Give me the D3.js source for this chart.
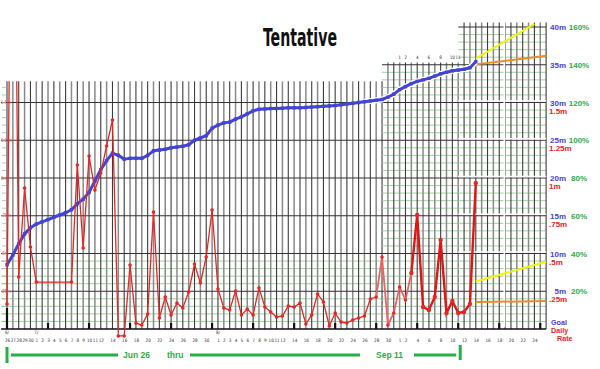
<!DOCTYPE html>
<html><head><meta charset="utf-8">
<script src="https://cdn.jsdelivr.net/npm/d3@7"></script>
<style>body{margin:0;background:#fff}svg{display:block}</style>
</head><body>
<svg id="c" width="600" height="369"></svg>
<script>
// ---------------- DATA ----------------
const startDate = "2011/6/26";
// cumulative goal minutes, one per day from 6/26
const goalMinutes = [
  8.5, 9.8, 11.3, 12.6, 13.4, 13.9, 14.2, 14.5, 14.8, 15.1, 15.4, 15.8,
  16.6, 17.2, 18.1, 19.6, 21.1, 22.3, 23.3, 23.0, 22.5, 22.6, 22.6, 22.6,
  23.0, 23.6, 23.7, 23.8, 24.0, 24.1, 24.2, 24.4, 25.0, 25.3, 25.6, 26.6,
  27.0, 27.3, 27.4, 27.8, 28.1, 28.5, 28.9, 29.1, 29.15, 29.2, 29.2, 29.25,
  29.3, 29.3, 29.3, 29.35, 29.4, 29.45, 29.5, 29.55, 29.6, 29.7, 29.8, 29.9,
  30.0, 30.1, 30.2, 30.3, 30.4, 30.7, 31.1, 31.7, 32.1, 32.5, 32.8, 33.0,
  33.2, 33.5, 33.8, 34.0, 34.2, 34.3, 34.4, 34.6, 35.4
];
// daily rate (minutes), one per day from 6/26 (null = no entry)
const dailyRate = [
  0.166, 4.2, 0.344, 0.934, 0.543, 0.311, null, null, null, null, null, 0.311,
  1.086, 0.536, 1.146, 0.92, 1.033, 1.212, 1.384, -0.046, -0.046, 0.424, 0.040, 0.026,
  0.099, 0.775, 0.073, 0.212, 0.093, 0.172, 0.139, 0.245, 0.430, 0.305, 0.477, 0.788,
  0.265, 0.139, 0.126, 0.252, 0.093, 0.132, 0.093, 0.272, 0.146, 0.113, 0.079, 0.086,
  0.152, 0.146, 0.172, 0.033, 0.093, 0.232, 0.179, 0.020, 0.106, 0.046, 0.040, 0.060,
  0.073, 0.086, 0.199, 0.212, 0.477, 0.026, 0.106, 0.278, 0.192, 0.371, 0.755, 0.146,
  0.126, 0.212, 0.589, 0.106, 0.185, 0.106, 0.113, 0.166, 0.967
];
// projections
const projGoalHigh = [["9/14", 35.8], ["9/24", 40.4]];
const projGoalLow  = [["9/14", 35.05], ["9/26", 36.2]];
const projRateHigh = [["9/14", 0.315], ["9/26", 0.445]];
const projRateLow  = [["9/14", 0.178], ["9/26", 0.185]];

const tickLabels = [
  "6/26","6/27","6/28","6/29","6/30",
  "7/1","7/2","7/3","7/4","7/5","7/6","7/7","7/8","7/9","7/10","7/11","7/12",
  "7/14","7/16","7/18","7/20","7/22","7/24","7/26","7/28","7/30",
  "8/1","8/2","8/3","8/4","8/5","8/6","8/7","8/8","8/9","8/10","8/11","8/12",
  "8/14","8/16","8/18","8/20","8/22","8/24","8/26","8/28","8/30",
  "9/1","9/2","9/4","9/6","9/8","9/10","9/12","9/14","9/16","9/18","9/20","9/22","9/24"
];
const monthPrefixes = [["6/", "6/26"], ["7/", "7/1"], ["8/", "8/1"]];
const topTickLabels = ["9/1","9/2","9/4","9/6","9/8","9/10","9/11"];

const goalTicks = [5, 10, 15, 20, 25, 30, 35, 40];
const goalTickLabels = ["5m","10m","15m","20m","25m","30m","35m","40m"];
const percentLabels = ["20%","40%","60%","80%","100%","120%","140%","160%"];
const rateTicks = [0.25, 0.5, 0.75, 1, 1.25, 1.5];
const rateTickLabels = [".25m", ".5m", ".75m", "1m", "1.25m", "1.5m"];
const rangeLabels = ["Jun 26", "thru", "Sep 11"];
const rangeDates = ["6/26", "9/11"];
const title = "Tentative";

// ---------------- SETUP ----------------
const parse = d3.utcParse("%Y/%m/%d");
const md = s => parse("2011/" + s);
const start = parse(startDate);
const dayDate = i => d3.utcDay.offset(start, i);

const x = d3.scaleUtc().domain([start, dayDate(94)]).range([7, 7 + 5.86 * 94]);
const xd = i => x(dayDate(i));
const yG = d3.scaleLinear().domain([0, 40]).range([329, 27]);
const yR = d3.scaleLinear().domain([0, 2]).range([329, 27]);

const svg = d3.select("#c");
const FONT = "'Liberation Sans', Arial, sans-serif";
const NARROW = "'Liberation Sans Narrow', 'DejaVu Sans Condensed', sans-serif";
const BLUE = "#4444d4", RED = "#e82424", GREEN = "#2aae46";

// title
svg.append("text").attr("x", 300).attr("y", 46).attr("text-anchor", "middle")
  .attr("font-family", NARROW)
  .attr("font-weight", "bold").attr("font-size", 25).attr("fill", "#111")
  .attr("textLength", 74).attr("lengthAdjust", "spacingAndGlyphs").text(title);

// ---------------- GRID ----------------
const regions = [
  {d0: 0, d1: 64, h0: -0.3, h1: 64.5, top: 32.8, minorAll: false},
  {d0: 65, d1: 77, h0: 64.5, h1: 77.5, top: 35.3, minorAll: true},
  {d0: 78, d1: 92, h0: 77.5, h1: 92, top: 40.6, minorAll: true}
];
const grid = svg.append("g");
regions.forEach((r, ri) => {
  for (let v = 1; v < r.top; v++) {
    if (v % 5 === 0) continue;
    if (!r.minorAll && v > 10) continue;
    grid.append("line").attr("x1", xd(r.h0)).attr("x2", xd(r.h1))
      .attr("y1", yG(v)).attr("y2", yG(v)).attr("stroke", "#9ed49e").attr("stroke-width", 1);
  }
  d3.range(r.d0, r.d1 + 1).forEach(d => {
    grid.append("line").attr("x1", xd(d)).attr("x2", xd(d))
      .attr("y1", yG(r.top)).attr("y2", yG(0))
      .attr("stroke", d % 2 ? "#8a8a8a" : "#3c3c3c").attr("stroke-width", d % 2 ? 1.5 : 1.1);
  });
  goalTicks.filter(v => v < r.top).forEach(v => {
    grid.append("line").attr("x1", xd(r.h0)).attr("x2", xd(r.h1))
      .attr("y1", yG(v)).attr("y2", yG(v)).attr("stroke", "#333").attr("stroke-width", 1);
    if (ri === 2 && v >= 10 && v <= 30) {
      grid.append("line").attr("x1", xd(r.h0)).attr("x2", xd(r.h1))
        .attr("y1", yG(v) - 1.4).attr("y2", yG(v) - 1.4).attr("stroke", "#fff").attr("stroke-width", 1.5);
    }
  });
});
grid.append("rect").attr("x", 503.5).attr("y", yG(40.7)).attr("width", 1.6).attr("height", 305).attr("fill", "#fff");

d3.range(1, 33).forEach(v => {
  grid.append("line").attr("x1", 2).attr("x2", 6).attr("y1", yG(v)).attr("y2", yG(v))
    .attr("stroke", "#9ac49a").attr("stroke-width", 0.8);
});
rateTicks.forEach((v, i) => {
  svg.append("text").attr("x", 1).attr("y", yR(v) + 1.5).attr("font-size", 4.5)
    .attr("font-family", FONT).attr("fill", "#e66").text(rateTickLabels[i]);
});

svg.append("line").attr("x1", xd(-0.3)).attr("x2", xd(92)).attr("y1", yG(0)).attr("y2", yG(0))
  .attr("stroke", "#111").attr("stroke-width", 1.5);
d3.range(0, 93, 7).forEach(d => {
  svg.append("line").attr("x1", xd(d)).attr("x2", xd(d))
    .attr("y1", d === 0 ? yG(0) - 21 : yG(0) - 6).attr("y2", yG(0))
    .attr("stroke", "#111").attr("stroke-width", 2.2);
});

// ---------------- X AXIS LABELS ----------------
const ax = d3.axisBottom(x).tickValues(tickLabels.map(md))
  .tickFormat(d => d.getUTCDate()).tickSize(0).tickPadding(3);
const axG = svg.append("g").attr("transform", "translate(0,336)").call(ax);
axG.select(".domain").remove();
axG.selectAll("text").attr("font-size", 4.6).attr("font-family", NARROW).attr("fill", "#333");
monthPrefixes.forEach(([p, d]) => {
  svg.append("text").attr("x", x(md(d))).attr("y", 334).attr("text-anchor", "middle")
    .attr("font-size", 4.6).attr("font-family", NARROW).attr("fill", "#333").text(p);
});
topTickLabels.forEach(d => {
  svg.append("text").attr("x", x(md(d))).attr("y", 59).attr("text-anchor", "middle")
    .attr("font-size", 4.6).attr("font-family", NARROW).attr("fill", "#333").text(md(d).getUTCDate());
});

// ---------------- RIGHT LABELS ----------------
goalTicks.forEach((v, i) => {
  svg.append("text").attr("x", 566).attr("y", yG(v) + 3).attr("text-anchor", "end")
    .attr("font-size", 8).attr("font-weight", "bold").attr("font-family", FONT).attr("fill", BLUE)
    .text(goalTickLabels[i]);
  svg.append("text").attr("x", 579).attr("y", yG(v) + 3).attr("text-anchor", "middle")
    .attr("font-size", 8).attr("font-weight", "bold").attr("font-family", FONT).attr("fill", GREEN)
    .text(percentLabels[i]);
});
rateTicks.forEach((v, i) => {
  svg.append("text").attr("x", 549).attr("y", yR(v) + 11)
    .attr("font-size", 8).attr("font-weight", "bold").attr("font-family", FONT).attr("fill", RED)
    .text(rateTickLabels[i]);
});
[["Goal", 551, 324.5, BLUE], ["Daily", 551, 332.5, RED], ["Rate", 557, 340.5, RED]].forEach(([t, xx, yy, c]) => {
  svg.append("text").attr("x", xx).attr("y", yy).attr("font-size", 7.2).attr("font-weight", "bold")
    .attr("font-family", FONT).attr("fill", c).text(t);
});

// ---------------- PROJECTIONS ----------------
const projLine = (pts, yS, color) => {
  svg.append("path").datum(pts)
    .attr("d", d3.line().x(p => x(md(p[0]))).y(p => yS(p[1])))
    .attr("fill", "none").attr("stroke", color).attr("stroke-width", 2);
};
projLine(projGoalHigh, yG, "#f2f20c");
projLine(projGoalLow, yG, "#f08a28");
projLine(projRateHigh, yR, "#f2f20c");
projLine(projRateLow, yR, "#f08a28");

// ---------------- BLUE GOAL LINE ----------------
const goalPts = goalMinutes.map((v, i) => ({d: dayDate(i), v, i}));
const gLine = d3.line().x(p => x(p.d)).y(p => yG(p.v));
svg.append("path").datum(goalPts.filter(p => p.i >= 61))
  .attr("d", gLine).attr("fill", "none").attr("stroke", "#fff").attr("stroke-width", 6);
svg.append("path").datum(goalPts).attr("d", gLine).attr("fill", "none")
  .attr("stroke", BLUE).attr("stroke-width", 3).attr("stroke-linejoin", "round");
svg.selectAll(".gm").data(goalPts).enter().append("rect")
  .attr("x", p => x(p.d) - 1.7).attr("y", p => yG(p.v) - 1.7)
  .attr("width", 3.4).attr("height", 3.4).attr("fill", BLUE);

// ---------------- RED DAILY RATE ----------------
svg.append("clipPath").attr("id", "clipTop").append("rect")
  .attr("x", 0).attr("y", yG(32.8)).attr("width", 600).attr("height", 300);
const ratePts = dailyRate.map((v, i) => ({d: dayDate(i), v, i})).filter(p => p.v !== null);
const rLine = d3.line().x(p => x(p.d)).y(p => yR(p.v));
const rg = svg.append("g").attr("clip-path", "url(#clipTop)");
rg.append("path").datum(ratePts.filter(p => p.i <= 62)).attr("d", rLine)
  .attr("fill", "none").attr("stroke", RED).attr("stroke-width", 1.3);
rg.append("path").datum(ratePts.filter(p => p.i >= 62 && p.i <= 69)).attr("d", rLine)
  .attr("fill", "none").attr("stroke", "#f06060").attr("stroke-width", 1.8);
rg.append("path").datum(ratePts.filter(p => p.i >= 69)).attr("d", rLine)
  .attr("fill", "none").attr("stroke", "#e41414").attr("stroke-width", 2.4);
rg.selectAll(".rm").data(ratePts).enter().append("circle")
  .attr("cx", p => x(p.d)).attr("cy", p => yR(p.v)).attr("r", p => p.i >= 69 ? 2.2 : 1.8)
  .attr("fill", RED);

// ---------------- RANGE ANNOTATION ----------------
const xa = x(md(rangeDates[0])), xb = x(md(rangeDates[1]));
const ann = svg.append("g").attr("stroke", GREEN).attr("stroke-width", 3);
ann.append("line").attr("x1", xa).attr("x2", xa).attr("y1", 347).attr("y2", 363);
ann.append("line").attr("x1", xb + 2).attr("x2", xb + 2).attr("y1", 345).attr("y2", 360);
ann.append("line").attr("x1", xa + 4).attr("x2", 118).attr("y1", 355).attr("y2", 355);
ann.append("line").attr("x1", 190).attr("x2", 360).attr("y1", 355).attr("y2", 355);
ann.append("line").attr("x1", 414).attr("x2", xb - 2).attr("y1", 355).attr("y2", 355);
[[rangeLabels[0], 123], [rangeLabels[1], 167], [rangeLabels[2], 376]].forEach(([t, xx]) => {
  svg.append("text").attr("x", xx).attr("y", 358).attr("font-size", 8.5).attr("font-weight", "bold")
    .attr("font-family", FONT).attr("fill", GREEN).text(t);
});
</script>
</body></html>
